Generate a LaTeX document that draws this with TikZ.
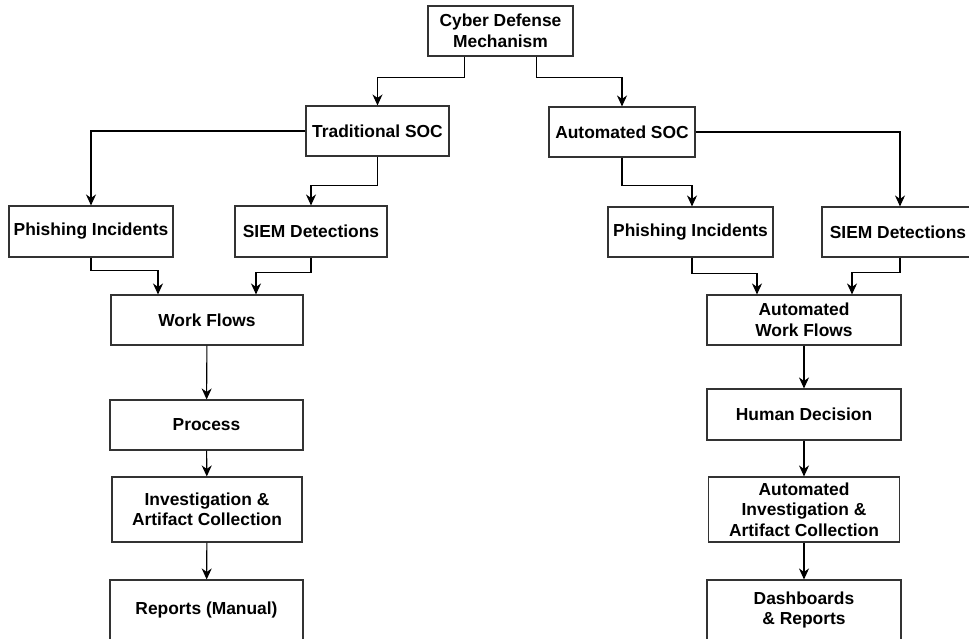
\documentclass[tikz,border=0pt]{standalone}
\usepackage{fontspec}
\setmainfont{Liberation Sans}
\usepackage{tikz}
\usetikzlibrary{
  arrows.meta,
  positioning
}

\begin{document}
\begin{tikzpicture}[
  x=1pt, y=-1pt,
  % Node styles
  block/.style={
    rectangle,
    draw=black!80,
    fill=white,
    line width=1.1pt,
    inner sep=0pt,
    minimum height=50pt,
    font=\fontsize{17.4}{20.5}\selectfont\bfseries,
    align=center,
  },
  arrow/.style={
    -{Stealth[length=11pt,width=10pt,inset=3.5pt]},
    line width=1.1pt,
    black,
  },
]
\useasboundingbox (0,0) rectangle (969,639);

% ── Row 1: Root ──
\node[block, minimum width=145pt] (cdm) at (500.5, 31) {Cyber Defense\\Mechanism};

% ── Row 2: SOC types ──
\node[block, minimum width=143pt] (trad) at (377.5, 131) {Traditional SOC};
\node[block, minimum width=146pt] (auto) at (622, 132) {Automated SOC};

% ── Row 3: Sources ──
\node[block, minimum width=164pt, minimum height=51pt] (phl) at (91, 231.5) {Phishing Incidents};
\node[block, minimum width=152pt, minimum height=51pt] (siemL) at (311, 231.5) {SIEM Detections};
\node[block, minimum width=165pt] (phr) at (690.5, 232) {Phishing Incidents};
\node[block, minimum width=152pt] (siemR) at (898, 232) {SIEM Detections};

% ── Traditional column ──
\node[block, minimum width=192pt] (wf) at (207, 320) {Work Flows};
\node[block, minimum width=193pt] (proc) at (206.5, 425) {Process};
\node[block, minimum width=190pt, minimum height=65pt] (inv) at (207, 509.5) {Investigation \&\\Artifact Collection};
\node[block, minimum width=193pt, minimum height=60pt] (rep) at (206.5, 610) {Reports (Manual)};

% ── Automated column ──
\node[block, minimum width=194pt] (awf) at (804, 320) {Automated\\Work Flows};
\node[block, minimum width=194pt, minimum height=51pt] (hd) at (804, 414.5) {Human Decision};
\node[block, minimum width=191pt, minimum height=65pt] (ainv) at (804, 509.5) {Automated\\Investigation \&\\Artifact Collection};
\node[block, minimum width=194pt, minimum height=60pt] (dash) at (804, 610) {Dashboards\\\& Reports};

% ── Arrows ──
% Root → SOC types
\draw[arrow] ([xshift=-36pt]cdm.south) -- ++(0,21) -| (trad.north);
\draw[arrow] ([xshift=36pt]cdm.south) -- ++(0,21) -| (auto.north);

% SOC types → Sources
\draw[arrow] (trad.west) -| (phl.north);
\draw[arrow] (trad.south) -- ++(0,29) -| (siemL.north);
\draw[arrow] (auto.south) -- ++(0,28) -| ([xshift=1.5pt]phr.north);
\draw[arrow] (auto.east) -| ([xshift=2pt]siemR.north);

% Sources → Work Flows
\draw[arrow] (phl.south) -- ++(0,13) -| ([xshift=-49pt]wf.north);
\draw[arrow] (siemL.south) -- ++(0,15) -| ([xshift=49pt]wf.north);
\draw[arrow] ([xshift=1.5pt]phr.south) -- ++(0,16) -| ([xshift=-47pt]awf.north);
\draw[arrow] ([xshift=2pt]siemR.south) -- ++(0,15) -| ([xshift=48pt]awf.north);

% Down the columns
\draw[arrow] (wf) -- (proc);
\draw[arrow] (proc) -- (inv);
\draw[arrow] (inv) -- (rep);
\draw[arrow] (awf) -- (hd);
\draw[arrow] (hd) -- (ainv);
\draw[arrow] (ainv) -- (dash);

\end{tikzpicture}
\end{document}
